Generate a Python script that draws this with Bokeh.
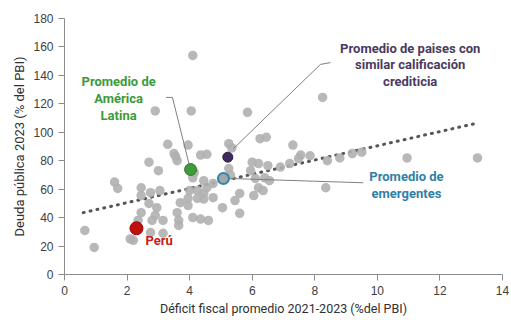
from bokeh.plotting import figure
from bokeh.models import Range1d, FixedTicker
from bokeh.core.properties import value
from bokeh.embed import file_html
from bokeh.resources import INLINE

# Grey points: other countries (deficit, debt)
x_grey = [4.1, 2.9, 4.05, 5.85, 8.25,
          3.3, 3.95, 5.25, 5.35, 6.25, 6.45, 7.3,
          3.5, 3.55, 4.35, 4.55, 7.55, 7.85, 7.48, 8.4, 8.8, 9.2, 9.5, 10.95, 13.2,
          2.7, 3.6, 6.0, 6.2, 6.9, 7.2, 3.0, 6.5, 5.95, 4.15, 5.25,
          6.1, 6.4, 6.55, 4.45, 4.1, 5.3, 4.75,
          1.6, 1.7, 2.45, 2.45, 2.75, 3.05, 6.2, 6.35, 4.25, 4.55, 8.35, 4.0, 4.45,
          2.7, 2.95, 3.7, 3.95, 4.25, 4.45, 4.75, 5.6, 6.05, 5.45, 5.05, 3.95,
          2.45, 2.9, 3.15, 2.8, 2.35, 3.6, 3.65, 3.65, 4.1, 4.35, 4.6, 5.6,
          2.75, 3.15, 2.2, 2.1, 0.65, 0.95]
y_grey = [154, 115, 115, 114, 124.5,
          91.5, 91, 92, 89, 95.5, 96.5, 91,
          85, 83, 84, 84.5, 84, 83.5, 81.5, 80, 82, 85, 86, 82, 82,
          79, 80, 79, 78, 75.5, 78, 73, 76.5, 73, 71.7, 74.5,
          67.5, 68, 66, 66, 68, 70, 64,
          65, 60.5, 61, 55.5, 57.5, 59, 61, 59, 59, 61, 61, 59, 57,
          50, 47, 50.5, 53.5, 53.5, 53, 54, 57, 55.5, 52, 47, 48.5,
          43.5, 41.5, 38, 38, 38, 43.5, 38, 34.5, 40, 39, 38, 43,
          29.5, 29, 24, 25, 31, 19]

# Highlighted points
peru_x, peru_y = [2.3], [32.5]
latam_x, latam_y = [4.03], [73.8]
rating_x, rating_y = [5.22], [82.5]
emerg_x, emerg_y = [5.08], [67.5]

# Trend line (endpoints)
trend_x = [0.6, 13.1]
trend_y = [43.5, 106]

x_ticks = [0, 2, 4, 6, 8, 10, 12, 14]
y_ticks = [0, 20, 40, 60, 80, 100, 120, 140, 160, 180]

FONT = "Roboto"

p = figure(width=509, height=318, x_range=Range1d(0, 14), y_range=Range1d(0, 180),
           output_backend="svg", toolbar_location=None,
           min_border_left=64, min_border_top=18, min_border_right=7, min_border_bottom=44)
p.outline_line_color = None
p.grid.grid_line_color = None
p.background_fill_color = "white"

for ax in (p.xaxis[0], p.yaxis[0]):
    ax.axis_line_color = "#8c8c8c"
    ax.major_tick_line_color = "#8c8c8c"
    ax.minor_tick_line_color = None
    ax.major_tick_out = 6
    ax.major_tick_in = 0
    ax.major_label_text_font = "Liberation Sans"
    ax.major_label_text_font_size = "12px"
    ax.major_label_text_color = "#404040"
    ax.axis_label_text_font = FONT
    ax.axis_label_text_font_style = "normal"
    ax.axis_label_text_color = "#303030"

p.xaxis[0].axis_label_text_font_size = "12.5px"
p.yaxis[0].axis_label_text_font_size = "13px"
p.xaxis[0].ticker = FixedTicker(ticks=x_ticks)
p.yaxis[0].ticker = FixedTicker(ticks=y_ticks)
p.xaxis[0].major_label_standoff = 5
p.yaxis[0].major_label_standoff = 5
p.xaxis[0].axis_label_standoff = 3
p.yaxis[0].axis_label_standoff = 3
p.xaxis[0].axis_label = "Déficit fiscal promedio 2021-2023 (%del PBI)"
p.yaxis[0].axis_label = "Deuda pública 2023 (% del PBI)"

# trend line
p.line(trend_x, trend_y, line_color="#555555", line_width=3, line_dash="1 6", line_cap="round")

# grey scatter
p.scatter(x_grey, y_grey, size=9.5, fill_color="#b0b0b0", fill_alpha=0.9, line_color=None)

# leader lines
lead = "#7f7f7f"
p.line([3.25, 3.45, 4.0], [124.5, 124.5, 76], line_color=lead, line_width=1)
p.line([5.4, 8.18, 8.5], [88.5, 147.7, 149], line_color=lead, line_width=1)
p.line([5.3, 9.55], [67.5, 64.5], line_color=lead, line_width=1)

# highlighted points
p.scatter(latam_x, latam_y, size=12, fill_color="#3f9a3c", line_color="#2e7d2e", line_width=1)
p.scatter(rating_x, rating_y, size=10, fill_color="#3e2a5c", line_color="#2a1a40", line_width=1)
p.scatter(emerg_x, emerg_y, size=11, fill_color="#a0a8ac", line_color="#2f86a8", line_width=2)
p.scatter(peru_x, peru_y, size=13, fill_color="#c0120c", line_color="#a00000", line_width=1)

def label(lines, xc, ys, color, align="center"):
    p.text(x=[xc] * len(lines), y=ys, text=lines, text_font=value(FONT),
           text_font_size="13px", text_font_style="bold", text_color=color,
           text_align=align, text_baseline="middle")

label(["Promedio de", "América", "Latina"], 1.73, [135.7, 123.8, 111.8], "#3c9a3a")
label(["Promedio de paises con", "similar calificación", "crediticia"], 11.05,
      [158.9, 147.7, 135.7], "#4a3a60")
label(["Promedio de", "emergentes"], 10.93, [68.9, 57.0], "#2f7fa8")
label(["Perú"], 2.59, [23.9], "#c8201a", align="left")

open("out.html", "w").write(file_html(p, INLINE))
